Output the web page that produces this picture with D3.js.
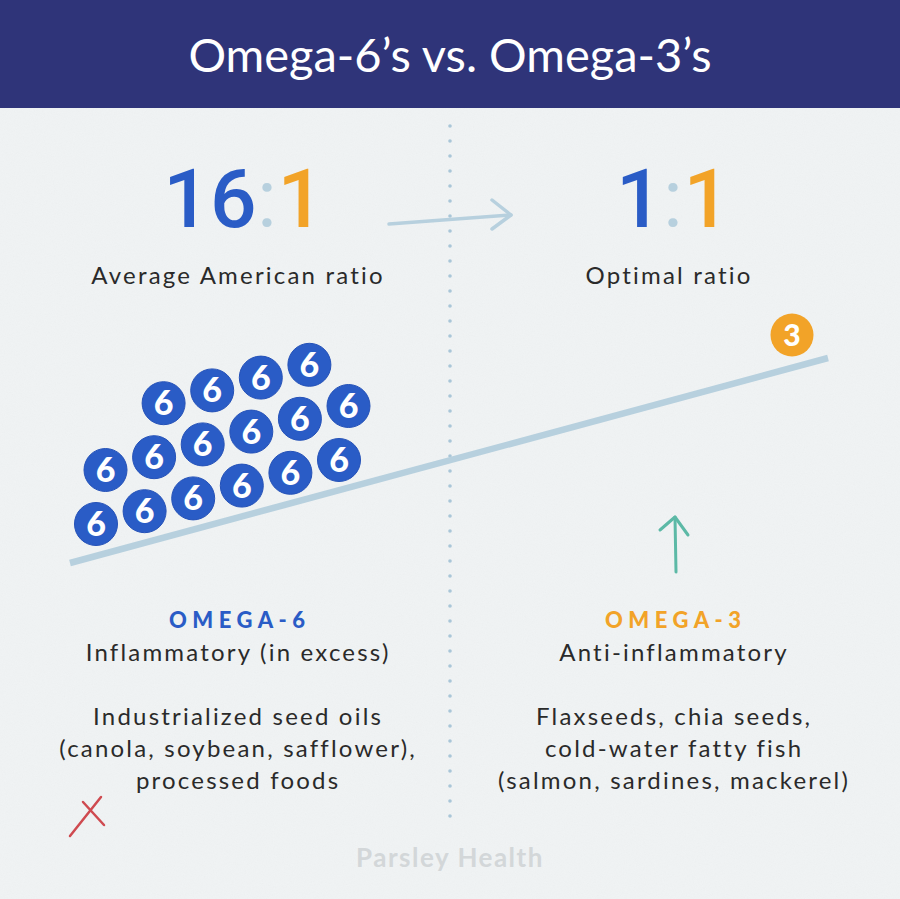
<!DOCTYPE html>
<html><head><meta charset="utf-8">
<script src="https://cdn.jsdelivr.net/npm/d3@7"></script>
<style>html,body{margin:0;padding:0;background:#f0f3f4;} svg{display:block}</style>
</head><body>
<svg id="chart" width="900" height="899"></svg>
<script>
// ---------- data ----------
const title = "Omega-6’s vs. Omega-3’s";
const ratioLabels = ["Average American ratio", "Optimal ratio"];
const omega6Ratio = [16, 1];
const omega3Ratio = [1, 1];
const omega6Rows = [6, 6, 4];      // circles per row, bottom to top (16 total)
const omega6RowStart = [0, 0, 1];  // first column of each row
const omega3Count = 1;
const headings = ["OMEGA-6", "OMEGA-3"];
const subtitles = ["Inflammatory (in excess)", "Anti-inflammatory"];
const sources6 = ["Industrialized seed oils", "(canola, soybean, safflower),", "processed foods"];
const sources3 = ["Flaxseeds, chia seeds,", "cold-water fatty fish", "(salmon, sardines, mackerel)"];
const footer = "Parsley Health";

// ---------- style ----------
const C = {
  navy: "#2f3479", blue: "#2a5cc6", orange: "#f2a328", beam: "#b7d0de",
  dots: "#a9c6d8", text: "#2a2a2a", teal: "#5cb9a6", red: "#cf4a50", footer: "#d3d7d9"
};
const FONT = "Lato, 'Open Sans', sans-serif";
const NUMFONT = "Roboto, sans-serif";
const LS = 2.2;

const svg = d3.select("#chart");
const W = 900, H = 899;

// background + texture
const defs = svg.append("defs");
const f = defs.append("filter").attr("id", "paper").attr("x", 0).attr("y", 0).attr("width", "100%").attr("height", "100%");
f.append("feTurbulence").attr("type", "fractalNoise").attr("baseFrequency", 0.9).attr("numOctaves", 2).attr("seed", 3);
f.append("feColorMatrix").attr("type", "saturate").attr("values", 0);
svg.append("rect").attr("width", W).attr("height", H).attr("fill", "#f0f3f4");
svg.append("rect").attr("width", W).attr("height", H).attr("filter", "url(#paper)").attr("opacity", 0.045);

// header
svg.append("rect").attr("width", W).attr("height", 108).attr("fill", C.navy);
svg.append("text").attr("x", W / 2).attr("y", 72).attr("text-anchor", "middle")
  .attr("font-family", FONT).attr("font-size", 47).attr("font-weight", 400)
  .attr("fill", "#fff").text(title);

// dotted divider
const dotY = d3.scaleLinear().domain([0, 46]).range([126, 816]);
svg.append("g").selectAll("circle").data(d3.range(47)).join("circle")
  .attr("cx", W / 2).attr("cy", d => dotY(d)).attr("r", 1.8).attr("fill", C.dots);

// column centres (colon positions)
const colonX = d3.scalePoint().domain([0, 1]).range([267, 673]);
const textX = d3.scalePoint().domain([0, 1]).range([237, 673]);

// ratio numbers: blue omega-6 part, light colon, orange omega-3 part
[0, 1].forEach(i => {
  const cx = colonX(i);
  const colon = svg.append("text").attr("x", cx).attr("y", 227).attr("text-anchor", "middle")
    .attr("font-family", NUMFONT).attr("font-size", 82).attr("font-weight", 400)
    .attr("fill", C.beam).text(":");
  const half = colon.node().getComputedTextLength() / 2;
  svg.append("text").attr("x", cx - half - 0.5).attr("y", 227).attr("text-anchor", "end")
    .attr("font-family", NUMFONT).attr("font-size", 82).attr("font-weight", 500)
    .attr("fill", C.blue).text(omega6Ratio[i]);
  svg.append("text").attr("x", cx + half + 0.5).attr("y", 227).attr("text-anchor", "start")
    .attr("font-family", NUMFONT).attr("font-size", 82).attr("font-weight", 500)
    .attr("fill", C.orange).text(omega3Ratio[i]);
});
[0, 1].forEach(i => {
  svg.append("text").attr("x", (i ? 668 : 237) + LS / 2).attr("y", 284).attr("text-anchor", "middle")
    .attr("font-family", FONT).attr("font-size", 24).attr("letter-spacing", LS)
    .attr("fill", C.text).text(ratioLabels[i]);
});

// right arrow
const arrow = svg.append("g").attr("stroke", C.beam).attr("stroke-width", 3.5)
  .attr("stroke-linecap", "round").attr("stroke-linejoin", "round").attr("fill", "none");
arrow.append("line").attr("x1", 389).attr("y1", 224).attr("x2", 511).attr("y2", 215);
arrow.append("polyline").attr("points", "492,200 511,215 492,229");

// seesaw beam
const beamX = d3.scaleLinear().domain([0, 1]).range([70, 828]);
const beamY = d3.scaleLinear().domain([0, 1]).range([563, 358]);
svg.append("line").attr("x1", beamX(0)).attr("y1", beamY(0)).attr("x2", beamX(1)).attr("y2", beamY(1))
  .attr("stroke", C.beam).attr("stroke-width", 6.5);

// omega-6 circles
const circleData = [];
omega6Rows.forEach((n, r) => {
  for (let k = 0; k < n; k++) circleData.push({ row: r, col: omega6RowStart[r] + k });
});
const cX = d3.scaleLinear().domain([0, 5]).range([96, 339]);
const cY = d3.scaleLinear().domain([0, 5]).range([524, 460]);
const rX = d3.scaleLinear().domain([0, 2]).range([0, 19]);
const rY = d3.scaleLinear().domain([0, 2]).range([0, -108]);
const six = svg.append("g").selectAll("g").data(circleData).join("g")
  .attr("transform", d => `translate(${cX(d.col) + rX(d.row)},${cY(d.col) + rY(d.row)})`);
six.append("circle").attr("r", 21.5).attr("fill", C.blue).attr("stroke", "#2552b8").attr("stroke-width", 1);
six.append("text").attr("y", 12).attr("text-anchor", "middle")
  .attr("font-family", FONT).attr("font-size", 34).attr("font-weight", 900)
  .attr("fill", "#fff").text("6");

// omega-3 circle
const three = svg.append("g").selectAll("g").data(d3.range(omega3Count)).join("g")
  .attr("transform", `translate(792,335)`);
three.append("circle").attr("r", 21.5).attr("fill", C.orange);
three.append("text").attr("y", 10.5).attr("text-anchor", "middle")
  .attr("font-family", FONT).attr("font-size", 30).attr("font-weight", 900)
  .attr("fill", "#fff").text("3");

// up arrow
const up = svg.append("g").attr("stroke", C.teal).attr("stroke-width", 3)
  .attr("stroke-linecap", "round").attr("stroke-linejoin", "round").attr("fill", "none");
up.append("line").attr("x1", 676).attr("y1", 572).attr("x2", 675).attr("y2", 517);
up.append("polyline").attr("points", "660,530 675,517 688,535");

// headings + text
const headColors = [C.blue, C.orange];
const sources = [sources6, sources3];
[0, 1].forEach(i => {
  const cx = textX(i);
  svg.append("text").attr("x", cx + 2.75).attr("y", 628).attr("text-anchor", "middle")
    .attr("font-family", FONT).attr("font-size", 22).attr("font-weight", 900)
    .attr("letter-spacing", 5.5).attr("fill", headColors[i]).text(headings[i]);
  svg.append("text").attr("x", cx + LS / 2).attr("y", 661).attr("text-anchor", "middle")
    .attr("font-family", FONT).attr("font-size", 24).attr("letter-spacing", LS)
    .attr("fill", C.text).text(subtitles[i]);
  svg.append("g").selectAll("text").data(sources[i]).join("text")
    .attr("x", cx + LS / 2).attr("y", (d, j) => 725 + j * 32).attr("text-anchor", "middle")
    .attr("font-family", FONT).attr("font-size", 24).attr("letter-spacing", LS)
    .attr("fill", C.text).text(d => d);
});

// red cross
const x = svg.append("g").attr("stroke", C.red).attr("stroke-width", 2.5).attr("stroke-linecap", "round");
x.append("line").attr("x1", 70).attr("y1", 836).attr("x2", 101).attr("y2", 797);
x.append("line").attr("x1", 83).attr("y1", 802).attr("x2", 104).attr("y2", 825);

// footer
svg.append("text").attr("x", W / 2).attr("y", 867).attr("text-anchor", "middle")
  .attr("font-family", FONT).attr("font-size", 26).attr("font-weight", 700)
  .attr("letter-spacing", 1.5).attr("fill", C.footer).text(footer);
</script>
</body></html>
